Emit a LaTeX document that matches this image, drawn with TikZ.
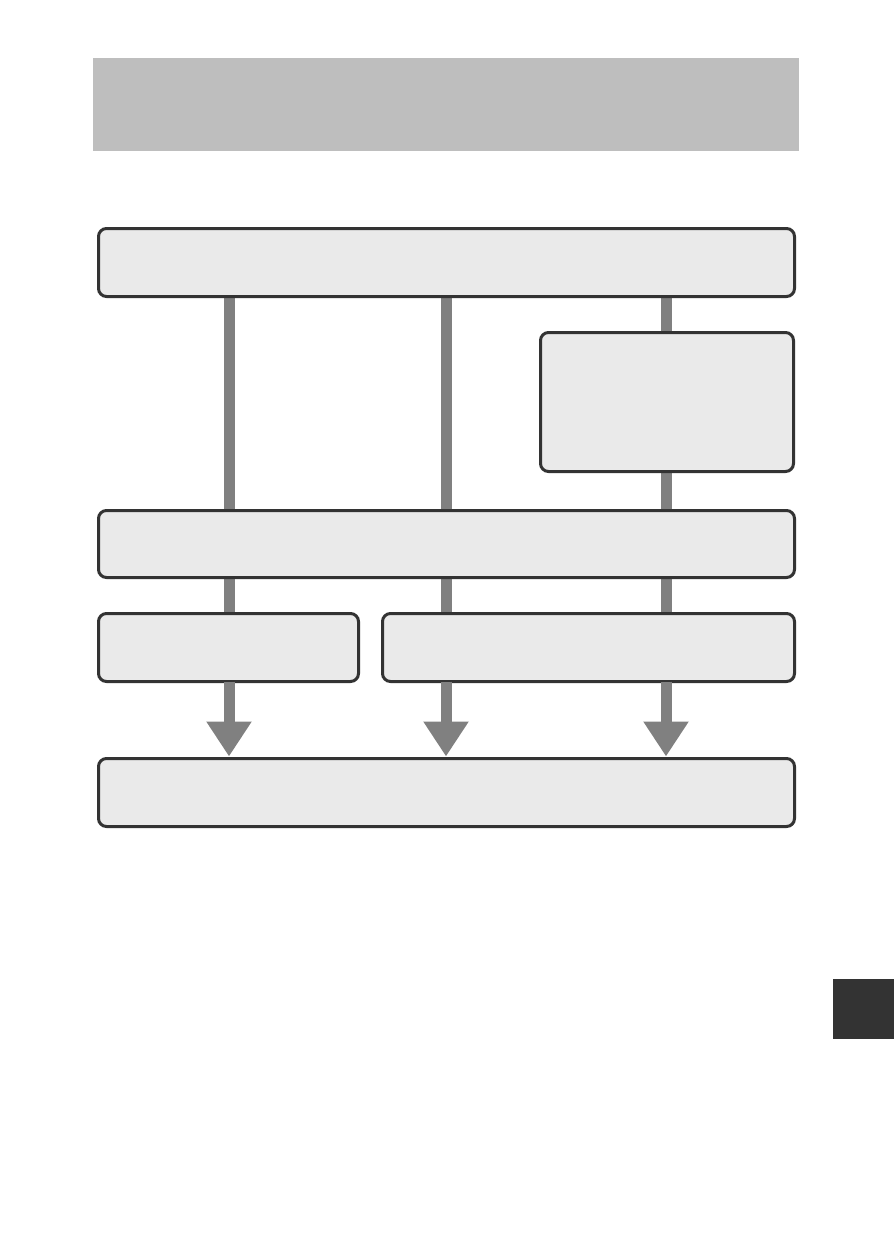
\documentclass[tikz,border=0pt]{standalone}
\usepackage{xcolor}
\definecolor{ink}{HTML}{333333}
\definecolor{boxFill}{HTML}{EAEAEA}
\definecolor{banner}{HTML}{BEBEBE}
\definecolor{flow}{HTML}{808080}
\usetikzlibrary{arrows.meta, backgrounds}

\begin{document}
\begin{tikzpicture}[
  x=1pt, y=-1pt,
  box/.style={rectangle, rounded corners=8pt, draw=ink, line width=3pt, fill=boxFill,
    inner sep=0pt, outer sep=0pt, anchor=north west},
  flowLine/.style={draw=flow, line width=11pt},
  flowArrow/.style={flowLine, -{Triangle[width=43pt, length=35pt]}},
]
\useasboundingbox (0,0) rectangle (894,1260);

% ------------------- banner and page tab -------------------
\node[fill=banner, minimum width=706pt, minimum height=93pt, inner sep=0pt, anchor=north west] (title) at (93,58) {};
\node[fill=ink, minimum width=61pt, minimum height=60pt, inner sep=0pt, anchor=north west] (tab) at (833,979) {};

% ------------------- boxes -------------------
\node[box, minimum width=696pt, minimum height=68pt] (top) at (98.5,228.5) {};
\node[box, minimum width=253pt, minimum height=139pt] (side) at (540.5,332.5) {};
\node[box, minimum width=696pt, minimum height=67pt] (mid) at (98.5,510.5) {};
\node[box, minimum width=260pt, minimum height=68pt] (left) at (98.5,613.5) {};
\node[box, minimum width=412pt, minimum height=68pt] (right) at (382.5,613.5) {};
\node[box, minimum width=696pt, minimum height=68pt] (bottom) at (98.5,758.5) {};

% column positions
\coordinate (colA) at (229,0);
\coordinate (colB) at (446,0);
\coordinate (colC) at (666,0);

% ------------------- connectors -------------------
\begin{pgfonlayer}{background}
  \draw[flowLine] (top.south -| colA) -- (mid.north -| colA);
  \draw[flowLine] (top.south -| colB) -- (mid.north -| colB);
  \draw[flowLine] (top.south -| colC) -- (side.north -| colC);
  \draw[flowLine] (side.south -| colC) -- (mid.north -| colC);
  \draw[flowLine] (mid.south -| colA) -- (left.north -| colA);
  \draw[flowLine] (mid.south -| colB) -- (right.north -| colB);
  \draw[flowLine] (mid.south -| colC) -- (right.north -| colC);
\end{pgfonlayer}
\draw[flowArrow] (left.south -| colA) -- ([yshift=2pt]bottom.north -| colA);
\draw[flowArrow] (right.south -| colB) -- ([yshift=2pt]bottom.north -| colB);
\draw[flowArrow] (right.south -| colC) -- ([yshift=2pt]bottom.north -| colC);

\end{tikzpicture}
\end{document}
